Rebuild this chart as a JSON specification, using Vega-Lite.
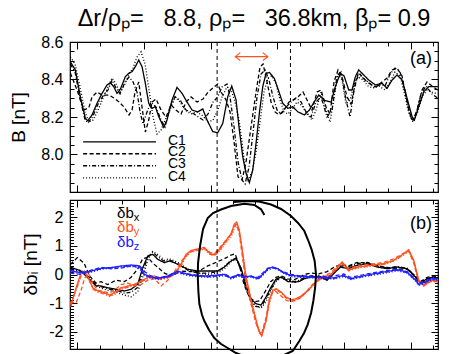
{
"$schema": "https://vega.github.io/schema/vega-lite/v6.json",
"background": "white",
"padding": {"left": 8, "top": 6, "right": 5, "bottom": 0},
"spacing": 0,
"config": {
  "view": {"stroke": "black", "strokeWidth": 1.2},
  "font": "Liberation Sans",
  "axis": {"grid": false, "domain": false, "minExtent": 0, "tickColor": "black", "tickWidth": 1, "labelFont": "Liberation Sans", "labelFontSize": 16, "labelColor": "black", "titleFont": "Liberation Sans", "titleFontSize": 19, "titleFontWeight": "normal", "titleColor": "black"}
},
"datasets": {
"top": [
{"x":-0.315,"y":8.495,"s":"C1"},{"x":-0.09,"y":8.451,"s":"C1"},{"x":0.135,"y":8.308,"s":"C1"},{"x":0.36,"y":8.193,"s":"C1"},{"x":0.468,"y":8.18,"s":"C1"},{"x":0.662,"y":8.211,"s":"C1"},{"x":0.887,"y":8.273,"s":"C1"},{"x":1.112,"y":8.326,"s":"C1"},{"x":1.337,"y":8.371,"s":"C1"},{"x":1.485,"y":8.383,"s":"C1"},{"x":1.638,"y":8.362,"s":"C1"},{"x":1.787,"y":8.326,"s":"C1"},{"x":1.935,"y":8.348,"s":"C1"},{"x":2.16,"y":8.415,"s":"C1"},{"x":2.313,"y":8.433,"s":"C1"},{"x":2.462,"y":8.442,"s":"C1"},{"x":2.61,"y":8.468,"s":"C1"},{"x":2.763,"y":8.504,"s":"C1"},{"x":2.912,"y":8.468,"s":"C1"},{"x":3.06,"y":8.38,"s":"C1"},{"x":3.213,"y":8.273,"s":"C1"},{"x":3.362,"y":8.246,"s":"C1"},{"x":3.51,"y":8.255,"s":"C1"},{"x":3.663,"y":8.202,"s":"C1"},{"x":3.888,"y":8.145,"s":"C1"},{"x":4.037,"y":8.184,"s":"C1"},{"x":4.262,"y":8.291,"s":"C1"},{"x":4.487,"y":8.358,"s":"C1"},{"x":4.712,"y":8.326,"s":"C1"},{"x":4.937,"y":8.28,"s":"C1"},{"x":5.162,"y":8.237,"s":"C1"},{"x":5.419,"y":8.227,"s":"C1"},{"x":5.644,"y":8.243,"s":"C1"},{"x":5.837,"y":8.184,"s":"C1"},{"x":6.094,"y":8.122,"s":"C1"},{"x":6.319,"y":8.116,"s":"C1"},{"x":6.544,"y":8.166,"s":"C1"},{"x":6.769,"y":8.308,"s":"C1"},{"x":6.949,"y":8.365,"s":"C1"},{"x":7.142,"y":8.291,"s":"C1"},{"x":7.291,"y":8.131,"s":"C1"},{"x":7.444,"y":7.988,"s":"C1"},{"x":7.592,"y":7.9,"s":"C1"},{"x":7.741,"y":7.85,"s":"C1"},{"x":7.894,"y":7.917,"s":"C1"},{"x":8.042,"y":8.06,"s":"C1"},{"x":8.191,"y":8.22,"s":"C1"},{"x":8.344,"y":8.362,"s":"C1"},{"x":8.492,"y":8.433,"s":"C1"},{"x":8.641,"y":8.438,"s":"C1"},{"x":8.866,"y":8.406,"s":"C1"},{"x":9.046,"y":8.344,"s":"C1"},{"x":9.244,"y":8.273,"s":"C1"},{"x":9.469,"y":8.246,"s":"C1"},{"x":9.694,"y":8.255,"s":"C1"},{"x":9.919,"y":8.228,"s":"C1"},{"x":10.216,"y":8.211,"s":"C1"},{"x":10.441,"y":8.237,"s":"C1"},{"x":10.666,"y":8.282,"s":"C1"},{"x":10.864,"y":8.317,"s":"C1"},{"x":11.116,"y":8.289,"s":"C1"},{"x":11.418,"y":8.28,"s":"C1"},{"x":11.611,"y":8.362,"s":"C1"},{"x":11.836,"y":8.433,"s":"C1"},{"x":12.003,"y":8.419,"s":"C1"},{"x":12.214,"y":8.344,"s":"C1"},{"x":12.363,"y":8.344,"s":"C1"},{"x":12.511,"y":8.415,"s":"C1"},{"x":12.664,"y":8.451,"s":"C1"},{"x":12.889,"y":8.424,"s":"C1"},{"x":13.114,"y":8.397,"s":"C1"},{"x":13.411,"y":8.371,"s":"C1"},{"x":13.713,"y":8.38,"s":"C1"},{"x":13.938,"y":8.353,"s":"C1"},{"x":14.163,"y":8.397,"s":"C1"},{"x":14.388,"y":8.424,"s":"C1"},{"x":14.613,"y":8.397,"s":"C1"},{"x":14.838,"y":8.3,"s":"C1"},{"x":15.063,"y":8.202,"s":"C1"},{"x":15.167,"y":8.184,"s":"C1"},{"x":15.365,"y":8.255,"s":"C1"},{"x":15.59,"y":8.335,"s":"C1"},{"x":15.815,"y":8.362,"s":"C1"},{"x":16.04,"y":8.362,"s":"C1"},{"x":16.22,"y":8.362,"s":"C1"},
{"x":-0.315,"y":8.435,"s":"C2"},{"x":-0.014,"y":8.344,"s":"C2"},{"x":0.288,"y":8.237,"s":"C2"},{"x":0.513,"y":8.248,"s":"C2"},{"x":0.662,"y":8.307,"s":"C2"},{"x":0.887,"y":8.333,"s":"C2"},{"x":1.112,"y":8.317,"s":"C2"},{"x":1.427,"y":8.317,"s":"C2"},{"x":1.652,"y":8.301,"s":"C2"},{"x":1.877,"y":8.28,"s":"C2"},{"x":2.102,"y":8.253,"s":"C2"},{"x":2.327,"y":8.211,"s":"C2"},{"x":2.462,"y":8.237,"s":"C2"},{"x":2.597,"y":8.333,"s":"C2"},{"x":2.763,"y":8.387,"s":"C2"},{"x":2.912,"y":8.253,"s":"C2"},{"x":3.06,"y":8.12,"s":"C2"},{"x":3.213,"y":8.184,"s":"C2"},{"x":3.362,"y":8.28,"s":"C2"},{"x":3.542,"y":8.296,"s":"C2"},{"x":3.767,"y":8.237,"s":"C2"},{"x":3.992,"y":8.2,"s":"C2"},{"x":4.217,"y":8.264,"s":"C2"},{"x":4.442,"y":8.237,"s":"C2"},{"x":4.667,"y":8.216,"s":"C2"},{"x":4.892,"y":8.28,"s":"C2"},{"x":5.117,"y":8.307,"s":"C2"},{"x":5.387,"y":8.28,"s":"C2"},{"x":5.657,"y":8.296,"s":"C2"},{"x":5.882,"y":8.333,"s":"C2"},{"x":6.107,"y":8.355,"s":"C2"},{"x":6.318,"y":8.376,"s":"C2"},{"x":6.467,"y":8.333,"s":"C2"},{"x":6.692,"y":8.291,"s":"C2"},{"x":6.872,"y":8.227,"s":"C2"},{"x":7.052,"y":8.067,"s":"C2"},{"x":7.232,"y":7.88,"s":"C2"},{"x":7.412,"y":7.864,"s":"C2"},{"x":7.592,"y":7.96,"s":"C2"},{"x":7.817,"y":8.147,"s":"C2"},{"x":8.042,"y":8.333,"s":"C2"},{"x":8.222,"y":8.467,"s":"C2"},{"x":8.357,"y":8.483,"s":"C2"},{"x":8.537,"y":8.387,"s":"C2"},{"x":8.717,"y":8.28,"s":"C2"},{"x":8.897,"y":8.227,"s":"C2"},{"x":9.077,"y":8.211,"s":"C2"},{"x":9.302,"y":8.237,"s":"C2"},{"x":9.527,"y":8.28,"s":"C2"},{"x":9.707,"y":8.291,"s":"C2"},{"x":9.932,"y":8.307,"s":"C2"},{"x":10.157,"y":8.333,"s":"C2"},{"x":10.337,"y":8.291,"s":"C2"},{"x":10.562,"y":8.237,"s":"C2"},{"x":10.787,"y":8.333,"s":"C2"},{"x":10.967,"y":8.344,"s":"C2"},{"x":11.192,"y":8.253,"s":"C2"},{"x":11.372,"y":8.216,"s":"C2"},{"x":11.552,"y":8.387,"s":"C2"},{"x":11.732,"y":8.451,"s":"C2"},{"x":11.912,"y":8.413,"s":"C2"},{"x":12.137,"y":8.307,"s":"C2"},{"x":12.317,"y":8.269,"s":"C2"},{"x":12.542,"y":8.397,"s":"C2"},{"x":12.722,"y":8.429,"s":"C2"},{"x":12.947,"y":8.397,"s":"C2"},{"x":13.172,"y":8.376,"s":"C2"},{"x":13.442,"y":8.36,"s":"C2"},{"x":13.712,"y":8.387,"s":"C2"},{"x":13.937,"y":8.408,"s":"C2"},{"x":14.162,"y":8.451,"s":"C2"},{"x":14.387,"y":8.461,"s":"C2"},{"x":14.612,"y":8.419,"s":"C2"},{"x":14.792,"y":8.307,"s":"C2"},{"x":14.972,"y":8.216,"s":"C2"},{"x":15.107,"y":8.184,"s":"C2"},{"x":15.287,"y":8.237,"s":"C2"},{"x":15.512,"y":8.344,"s":"C2"},{"x":15.737,"y":8.387,"s":"C2"},{"x":15.962,"y":8.365,"s":"C2"},{"x":16.218,"y":8.344,"s":"C2"},
{"x":-0.315,"y":8.483,"s":"C3"},{"x":-0.104,"y":8.44,"s":"C3"},{"x":0.122,"y":8.301,"s":"C3"},{"x":0.347,"y":8.184,"s":"C3"},{"x":0.482,"y":8.168,"s":"C3"},{"x":0.707,"y":8.205,"s":"C3"},{"x":0.932,"y":8.269,"s":"C3"},{"x":1.157,"y":8.312,"s":"C3"},{"x":1.382,"y":8.344,"s":"C3"},{"x":1.562,"y":8.397,"s":"C3"},{"x":1.742,"y":8.355,"s":"C3"},{"x":1.922,"y":8.323,"s":"C3"},{"x":2.147,"y":8.387,"s":"C3"},{"x":2.327,"y":8.413,"s":"C3"},{"x":2.507,"y":8.387,"s":"C3"},{"x":2.687,"y":8.333,"s":"C3"},{"x":2.822,"y":8.227,"s":"C3"},{"x":2.957,"y":8.163,"s":"C3"},{"x":3.137,"y":8.227,"s":"C3"},{"x":3.317,"y":8.28,"s":"C3"},{"x":3.542,"y":8.253,"s":"C3"},{"x":3.767,"y":8.184,"s":"C3"},{"x":3.947,"y":8.147,"s":"C3"},{"x":4.172,"y":8.253,"s":"C3"},{"x":4.397,"y":8.307,"s":"C3"},{"x":4.622,"y":8.291,"s":"C3"},{"x":4.892,"y":8.237,"s":"C3"},{"x":5.117,"y":8.227,"s":"C3"},{"x":5.387,"y":8.205,"s":"C3"},{"x":5.657,"y":8.184,"s":"C3"},{"x":5.882,"y":8.216,"s":"C3"},{"x":6.107,"y":8.28,"s":"C3"},{"x":6.318,"y":8.307,"s":"C3"},{"x":6.512,"y":8.36,"s":"C3"},{"x":6.737,"y":8.376,"s":"C3"},{"x":6.872,"y":8.307,"s":"C3"},{"x":7.052,"y":8.147,"s":"C3"},{"x":7.232,"y":7.96,"s":"C3"},{"x":7.412,"y":7.864,"s":"C3"},{"x":7.547,"y":7.843,"s":"C3"},{"x":7.727,"y":7.933,"s":"C3"},{"x":7.907,"y":8.12,"s":"C3"},{"x":8.087,"y":8.307,"s":"C3"},{"x":8.267,"y":8.429,"s":"C3"},{"x":8.447,"y":8.451,"s":"C3"},{"x":8.627,"y":8.397,"s":"C3"},{"x":8.807,"y":8.307,"s":"C3"},{"x":8.987,"y":8.237,"s":"C3"},{"x":9.167,"y":8.216,"s":"C3"},{"x":9.392,"y":8.253,"s":"C3"},{"x":9.617,"y":8.28,"s":"C3"},{"x":9.842,"y":8.301,"s":"C3"},{"x":10.067,"y":8.28,"s":"C3"},{"x":10.292,"y":8.227,"s":"C3"},{"x":10.517,"y":8.2,"s":"C3"},{"x":10.742,"y":8.28,"s":"C3"},{"x":10.967,"y":8.307,"s":"C3"},{"x":11.237,"y":8.2,"s":"C3"},{"x":11.462,"y":8.237,"s":"C3"},{"x":11.687,"y":8.419,"s":"C3"},{"x":11.867,"y":8.44,"s":"C3"},{"x":12.092,"y":8.291,"s":"C3"},{"x":12.272,"y":8.2,"s":"C3"},{"x":12.452,"y":8.344,"s":"C3"},{"x":12.632,"y":8.429,"s":"C3"},{"x":12.857,"y":8.408,"s":"C3"},{"x":13.082,"y":8.387,"s":"C3"},{"x":13.352,"y":8.36,"s":"C3"},{"x":13.622,"y":8.371,"s":"C3"},{"x":13.847,"y":8.365,"s":"C3"},{"x":14.072,"y":8.429,"s":"C3"},{"x":14.297,"y":8.461,"s":"C3"},{"x":14.522,"y":8.44,"s":"C3"},{"x":14.747,"y":8.344,"s":"C3"},{"x":14.927,"y":8.227,"s":"C3"},{"x":15.062,"y":8.184,"s":"C3"},{"x":15.242,"y":8.216,"s":"C3"},{"x":15.467,"y":8.323,"s":"C3"},{"x":15.692,"y":8.365,"s":"C3"},{"x":15.962,"y":8.323,"s":"C3"},{"x":16.218,"y":8.301,"s":"C3"},
{"x":-0.315,"y":8.52,"s":"C4"},{"x":-0.104,"y":8.483,"s":"C4"},{"x":0.122,"y":8.36,"s":"C4"},{"x":0.347,"y":8.227,"s":"C4"},{"x":0.527,"y":8.173,"s":"C4"},{"x":0.707,"y":8.184,"s":"C4"},{"x":0.932,"y":8.237,"s":"C4"},{"x":1.157,"y":8.301,"s":"C4"},{"x":1.382,"y":8.36,"s":"C4"},{"x":1.562,"y":8.408,"s":"C4"},{"x":1.742,"y":8.376,"s":"C4"},{"x":1.922,"y":8.333,"s":"C4"},{"x":2.147,"y":8.376,"s":"C4"},{"x":2.327,"y":8.429,"s":"C4"},{"x":2.507,"y":8.461,"s":"C4"},{"x":2.687,"y":8.52,"s":"C4"},{"x":2.867,"y":8.547,"s":"C4"},{"x":3.047,"y":8.483,"s":"C4"},{"x":3.227,"y":8.344,"s":"C4"},{"x":3.407,"y":8.2,"s":"C4"},{"x":3.587,"y":8.109,"s":"C4"},{"x":3.767,"y":8.131,"s":"C4"},{"x":3.947,"y":8.184,"s":"C4"},{"x":4.172,"y":8.237,"s":"C4"},{"x":4.397,"y":8.307,"s":"C4"},{"x":4.622,"y":8.28,"s":"C4"},{"x":4.847,"y":8.237,"s":"C4"},{"x":5.117,"y":8.216,"s":"C4"},{"x":5.387,"y":8.227,"s":"C4"},{"x":5.657,"y":8.205,"s":"C4"},{"x":5.882,"y":8.173,"s":"C4"},{"x":6.107,"y":8.184,"s":"C4"},{"x":6.318,"y":8.237,"s":"C4"},{"x":6.512,"y":8.307,"s":"C4"},{"x":6.737,"y":8.36,"s":"C4"},{"x":6.917,"y":8.344,"s":"C4"},{"x":7.097,"y":8.28,"s":"C4"},{"x":7.277,"y":8.184,"s":"C4"},{"x":7.412,"y":8.067,"s":"C4"},{"x":7.547,"y":7.933,"s":"C4"},{"x":7.682,"y":7.864,"s":"C4"},{"x":7.862,"y":7.907,"s":"C4"},{"x":8.042,"y":8.013,"s":"C4"},{"x":8.222,"y":8.173,"s":"C4"},{"x":8.402,"y":8.333,"s":"C4"},{"x":8.582,"y":8.408,"s":"C4"},{"x":8.762,"y":8.419,"s":"C4"},{"x":8.942,"y":8.376,"s":"C4"},{"x":9.122,"y":8.291,"s":"C4"},{"x":9.302,"y":8.227,"s":"C4"},{"x":9.482,"y":8.216,"s":"C4"},{"x":9.707,"y":8.248,"s":"C4"},{"x":9.887,"y":8.28,"s":"C4"},{"x":10.112,"y":8.259,"s":"C4"},{"x":10.337,"y":8.216,"s":"C4"},{"x":10.562,"y":8.184,"s":"C4"},{"x":10.742,"y":8.237,"s":"C4"},{"x":10.967,"y":8.333,"s":"C4"},{"x":11.192,"y":8.237,"s":"C4"},{"x":11.372,"y":8.173,"s":"C4"},{"x":11.552,"y":8.307,"s":"C4"},{"x":11.732,"y":8.429,"s":"C4"},{"x":11.912,"y":8.397,"s":"C4"},{"x":12.092,"y":8.269,"s":"C4"},{"x":12.272,"y":8.291,"s":"C4"},{"x":12.452,"y":8.376,"s":"C4"},{"x":12.632,"y":8.413,"s":"C4"},{"x":12.857,"y":8.397,"s":"C4"},{"x":13.082,"y":8.365,"s":"C4"},{"x":13.307,"y":8.355,"s":"C4"},{"x":13.577,"y":8.365,"s":"C4"},{"x":13.847,"y":8.344,"s":"C4"},{"x":14.072,"y":8.387,"s":"C4"},{"x":14.297,"y":8.44,"s":"C4"},{"x":14.522,"y":8.419,"s":"C4"},{"x":14.702,"y":8.333,"s":"C4"},{"x":14.927,"y":8.216,"s":"C4"},{"x":15.107,"y":8.173,"s":"C4"},{"x":15.287,"y":8.216,"s":"C4"},{"x":15.512,"y":8.307,"s":"C4"},{"x":15.737,"y":8.344,"s":"C4"},{"x":15.962,"y":8.333,"s":"C4"},{"x":16.218,"y":8.323,"s":"C4"}
],
"bot": [
{"x":-0.315,"y":0.262,"c":"x","s":"C1"},{"x":0.167,"y":0.122,"c":"x","s":"C1"},{"x":0.54,"y":-0.168,"c":"x","s":"C1"},{"x":0.842,"y":-0.4,"c":"x","s":"C1"},{"x":1.067,"y":-0.4,"c":"x","s":"C1"},{"x":1.368,"y":-0.461,"c":"x","s":"C1"},{"x":1.742,"y":-0.517,"c":"x","s":"C1"},{"x":2.115,"y":-0.576,"c":"x","s":"C1"},{"x":2.417,"y":-0.517,"c":"x","s":"C1"},{"x":2.718,"y":-0.342,"c":"x","s":"C1"},{"x":2.943,"y":0.237,"c":"x","s":"C1"},{"x":3.168,"y":0.646,"c":"x","s":"C1"},{"x":3.393,"y":0.705,"c":"x","s":"C1"},{"x":3.618,"y":0.531,"c":"x","s":"C1"},{"x":3.915,"y":0.412,"c":"x","s":"C1"},{"x":4.14,"y":0.471,"c":"x","s":"C1"},{"x":4.365,"y":0.412,"c":"x","s":"C1"},{"x":4.667,"y":0.297,"c":"x","s":"C1"},{"x":4.968,"y":0.181,"c":"x","s":"C1"},{"x":5.418,"y":0.122,"c":"x","s":"C1"},{"x":5.868,"y":0.122,"c":"x","s":"C1"},{"x":6.318,"y":0.122,"c":"x","s":"C1"},{"x":6.615,"y":0.262,"c":"x","s":"C1"},{"x":6.917,"y":0.471,"c":"x","s":"C1"},{"x":7.142,"y":0.576,"c":"x","s":"C1"},{"x":7.367,"y":0.227,"c":"x","s":"C1"},{"x":7.592,"y":-0.4,"c":"x","s":"C1"},{"x":7.817,"y":-0.855,"c":"x","s":"C1"},{"x":8.042,"y":-1.019,"c":"x","s":"C1"},{"x":8.267,"y":-1.065,"c":"x","s":"C1"},{"x":8.492,"y":-0.785,"c":"x","s":"C1"},{"x":8.717,"y":-0.436,"c":"x","s":"C1"},{"x":8.942,"y":-0.157,"c":"x","s":"C1"},{"x":9.167,"y":-0.087,"c":"x","s":"C1"},{"x":9.468,"y":-0.244,"c":"x","s":"C1"},{"x":9.765,"y":-0.262,"c":"x","s":"C1"},{"x":9.99,"y":-0.244,"c":"x","s":"C1"},{"x":10.215,"y":-0.147,"c":"x","s":"C1"},{"x":10.517,"y":-0.087,"c":"x","s":"C1"},{"x":10.863,"y":-0.063,"c":"x","s":"C1"},{"x":11.237,"y":-0.202,"c":"x","s":"C1"},{"x":11.538,"y":0.028,"c":"x","s":"C1"},{"x":11.835,"y":0.262,"c":"x","s":"C1"},{"x":12.213,"y":0.202,"c":"x","s":"C1"},{"x":12.587,"y":0.321,"c":"x","s":"C1"},{"x":13.037,"y":0.377,"c":"x","s":"C1"},{"x":13.487,"y":0.262,"c":"x","s":"C1"},{"x":13.937,"y":0.202,"c":"x","s":"C1"},{"x":14.387,"y":0.262,"c":"x","s":"C1"},{"x":14.837,"y":0.202,"c":"x","s":"C1"},{"x":15.211,"y":-0.087,"c":"x","s":"C1"},{"x":15.436,"y":-0.297,"c":"x","s":"C1"},{"x":15.737,"y":-0.147,"c":"x","s":"C1"},{"x":16.039,"y":-0.087,"c":"x","s":"C1"},{"x":16.232,"y":-0.147,"c":"x","s":"C1"},
{"x":-0.315,"y":0.35,"c":"x","s":"C2"},{"x":0.0,"y":0.59,"c":"x","s":"C2"},{"x":0.3,"y":0.4,"c":"x","s":"C2"},{"x":0.55,"y":-0.05,"c":"x","s":"C2"},{"x":0.84,"y":-0.3,"c":"x","s":"C2"},{"x":1.07,"y":-0.25,"c":"x","s":"C2"},{"x":1.37,"y":-0.35,"c":"x","s":"C2"},{"x":1.74,"y":-0.2,"c":"x","s":"C2"},{"x":2.12,"y":-0.25,"c":"x","s":"C2"},{"x":2.42,"y":-0.1,"c":"x","s":"C2"},{"x":2.72,"y":0.2,"c":"x","s":"C2"},{"x":2.94,"y":0.55,"c":"x","s":"C2"},{"x":3.17,"y":0.6,"c":"x","s":"C2"},{"x":3.39,"y":0.4,"c":"x","s":"C2"},{"x":3.62,"y":0.25,"c":"x","s":"C2"},{"x":3.92,"y":0.05,"c":"x","s":"C2"},{"x":4.14,"y":-0.02,"c":"x","s":"C2"},{"x":4.37,"y":0.05,"c":"x","s":"C2"},{"x":4.67,"y":0.12,"c":"x","s":"C2"},{"x":4.97,"y":0.1,"c":"x","s":"C2"},{"x":5.42,"y":0.1,"c":"x","s":"C2"},{"x":5.87,"y":0.3,"c":"x","s":"C2"},{"x":6.32,"y":0.45,"c":"x","s":"C2"},{"x":6.62,"y":0.55,"c":"x","s":"C2"},{"x":6.92,"y":0.68,"c":"x","s":"C2"},{"x":7.1,"y":0.72,"c":"x","s":"C2"},{"x":7.3,"y":0.3,"c":"x","s":"C2"},{"x":7.5,"y":-0.35,"c":"x","s":"C2"},{"x":7.75,"y":-0.8,"c":"x","s":"C2"},{"x":8.0,"y":-0.95,"c":"x","s":"C2"},{"x":8.2,"y":-0.92,"c":"x","s":"C2"},{"x":8.45,"y":-0.6,"c":"x","s":"C2"},{"x":8.7,"y":-0.25,"c":"x","s":"C2"},{"x":8.94,"y":-0.1,"c":"x","s":"C2"},{"x":9.17,"y":-0.05,"c":"x","s":"C2"},{"x":9.47,"y":-0.15,"c":"x","s":"C2"},{"x":9.77,"y":-0.18,"c":"x","s":"C2"},{"x":9.99,"y":-0.1,"c":"x","s":"C2"},{"x":10.22,"y":0.0,"c":"x","s":"C2"},{"x":10.52,"y":0.05,"c":"x","s":"C2"},{"x":10.86,"y":0.02,"c":"x","s":"C2"},{"x":11.24,"y":0.1,"c":"x","s":"C2"},{"x":11.54,"y":0.25,"c":"x","s":"C2"},{"x":11.84,"y":0.35,"c":"x","s":"C2"},{"x":12.21,"y":0.3,"c":"x","s":"C2"},{"x":12.59,"y":0.42,"c":"x","s":"C2"},{"x":13.04,"y":0.4,"c":"x","s":"C2"},{"x":13.49,"y":0.3,"c":"x","s":"C2"},{"x":13.94,"y":0.25,"c":"x","s":"C2"},{"x":14.39,"y":0.2,"c":"x","s":"C2"},{"x":14.84,"y":0.18,"c":"x","s":"C2"},{"x":15.21,"y":-0.05,"c":"x","s":"C2"},{"x":15.44,"y":-0.25,"c":"x","s":"C2"},{"x":15.74,"y":-0.1,"c":"x","s":"C2"},{"x":16.04,"y":-0.05,"c":"x","s":"C2"},{"x":16.23,"y":-0.1,"c":"x","s":"C2"},
{"x":-0.315,"y":0.22,"c":"x","s":"C3"},{"x":0.17,"y":0.1,"c":"x","s":"C3"},{"x":0.54,"y":-0.1,"c":"x","s":"C3"},{"x":0.84,"y":-0.35,"c":"x","s":"C3"},{"x":1.07,"y":-0.42,"c":"x","s":"C3"},{"x":1.37,"y":-0.5,"c":"x","s":"C3"},{"x":1.74,"y":-0.55,"c":"x","s":"C3"},{"x":2.12,"y":-0.65,"c":"x","s":"C3"},{"x":2.42,"y":-0.62,"c":"x","s":"C3"},{"x":2.72,"y":-0.45,"c":"x","s":"C3"},{"x":2.94,"y":0.1,"c":"x","s":"C3"},{"x":3.17,"y":0.6,"c":"x","s":"C3"},{"x":3.39,"y":0.78,"c":"x","s":"C3"},{"x":3.62,"y":0.62,"c":"x","s":"C3"},{"x":3.92,"y":0.45,"c":"x","s":"C3"},{"x":4.14,"y":0.5,"c":"x","s":"C3"},{"x":4.37,"y":0.45,"c":"x","s":"C3"},{"x":4.67,"y":0.3,"c":"x","s":"C3"},{"x":4.97,"y":0.15,"c":"x","s":"C3"},{"x":5.42,"y":0.05,"c":"x","s":"C3"},{"x":5.87,"y":0.05,"c":"x","s":"C3"},{"x":6.32,"y":0.1,"c":"x","s":"C3"},{"x":6.62,"y":0.28,"c":"x","s":"C3"},{"x":6.92,"y":0.5,"c":"x","s":"C3"},{"x":7.14,"y":0.55,"c":"x","s":"C3"},{"x":7.37,"y":0.15,"c":"x","s":"C3"},{"x":7.59,"y":-0.5,"c":"x","s":"C3"},{"x":7.82,"y":-0.95,"c":"x","s":"C3"},{"x":8.04,"y":-1.12,"c":"x","s":"C3"},{"x":8.27,"y":-1.12,"c":"x","s":"C3"},{"x":8.49,"y":-0.85,"c":"x","s":"C3"},{"x":8.72,"y":-0.5,"c":"x","s":"C3"},{"x":8.94,"y":-0.2,"c":"x","s":"C3"},{"x":9.17,"y":-0.1,"c":"x","s":"C3"},{"x":9.47,"y":-0.2,"c":"x","s":"C3"},{"x":9.77,"y":-0.25,"c":"x","s":"C3"},{"x":9.99,"y":-0.2,"c":"x","s":"C3"},{"x":10.22,"y":-0.1,"c":"x","s":"C3"},{"x":10.52,"y":-0.05,"c":"x","s":"C3"},{"x":10.86,"y":-0.05,"c":"x","s":"C3"},{"x":11.24,"y":-0.15,"c":"x","s":"C3"},{"x":11.54,"y":0.1,"c":"x","s":"C3"},{"x":11.84,"y":0.3,"c":"x","s":"C3"},{"x":12.21,"y":0.28,"c":"x","s":"C3"},{"x":12.59,"y":0.38,"c":"x","s":"C3"},{"x":13.04,"y":0.42,"c":"x","s":"C3"},{"x":13.49,"y":0.32,"c":"x","s":"C3"},{"x":13.94,"y":0.22,"c":"x","s":"C3"},{"x":14.39,"y":0.28,"c":"x","s":"C3"},{"x":14.84,"y":0.22,"c":"x","s":"C3"},{"x":15.21,"y":-0.05,"c":"x","s":"C3"},{"x":15.44,"y":-0.3,"c":"x","s":"C3"},{"x":15.74,"y":-0.15,"c":"x","s":"C3"},{"x":16.04,"y":-0.08,"c":"x","s":"C3"},{"x":16.23,"y":-0.12,"c":"x","s":"C3"},
{"x":-0.315,"y":0.2,"c":"x","s":"C4"},{"x":0.17,"y":0.15,"c":"x","s":"C4"},{"x":0.54,"y":-0.12,"c":"x","s":"C4"},{"x":0.84,"y":-0.4,"c":"x","s":"C4"},{"x":1.07,"y":-0.48,"c":"x","s":"C4"},{"x":1.37,"y":-0.55,"c":"x","s":"C4"},{"x":1.74,"y":-0.62,"c":"x","s":"C4"},{"x":2.12,"y":-0.72,"c":"x","s":"C4"},{"x":2.42,"y":-0.78,"c":"x","s":"C4"},{"x":2.72,"y":-0.6,"c":"x","s":"C4"},{"x":2.94,"y":-0.1,"c":"x","s":"C4"},{"x":3.17,"y":0.5,"c":"x","s":"C4"},{"x":3.39,"y":0.8,"c":"x","s":"C4"},{"x":3.62,"y":0.7,"c":"x","s":"C4"},{"x":3.92,"y":0.5,"c":"x","s":"C4"},{"x":4.14,"y":0.55,"c":"x","s":"C4"},{"x":4.37,"y":0.48,"c":"x","s":"C4"},{"x":4.67,"y":0.35,"c":"x","s":"C4"},{"x":4.97,"y":0.18,"c":"x","s":"C4"},{"x":5.42,"y":0.05,"c":"x","s":"C4"},{"x":5.87,"y":0.0,"c":"x","s":"C4"},{"x":6.32,"y":0.05,"c":"x","s":"C4"},{"x":6.62,"y":0.2,"c":"x","s":"C4"},{"x":6.92,"y":0.45,"c":"x","s":"C4"},{"x":7.14,"y":0.52,"c":"x","s":"C4"},{"x":7.37,"y":0.2,"c":"x","s":"C4"},{"x":7.59,"y":-0.4,"c":"x","s":"C4"},{"x":7.82,"y":-0.9,"c":"x","s":"C4"},{"x":8.04,"y":-1.1,"c":"x","s":"C4"},{"x":8.27,"y":-1.18,"c":"x","s":"C4"},{"x":8.49,"y":-0.95,"c":"x","s":"C4"},{"x":8.72,"y":-0.55,"c":"x","s":"C4"},{"x":8.94,"y":-0.25,"c":"x","s":"C4"},{"x":9.17,"y":-0.12,"c":"x","s":"C4"},{"x":9.47,"y":-0.2,"c":"x","s":"C4"},{"x":9.77,"y":-0.28,"c":"x","s":"C4"},{"x":9.99,"y":-0.22,"c":"x","s":"C4"},{"x":10.22,"y":-0.12,"c":"x","s":"C4"},{"x":10.52,"y":-0.08,"c":"x","s":"C4"},{"x":10.86,"y":-0.1,"c":"x","s":"C4"},{"x":11.24,"y":-0.18,"c":"x","s":"C4"},{"x":11.54,"y":0.05,"c":"x","s":"C4"},{"x":11.84,"y":0.25,"c":"x","s":"C4"},{"x":12.21,"y":0.25,"c":"x","s":"C4"},{"x":12.59,"y":0.33,"c":"x","s":"C4"},{"x":13.04,"y":0.38,"c":"x","s":"C4"},{"x":13.49,"y":0.28,"c":"x","s":"C4"},{"x":13.94,"y":0.22,"c":"x","s":"C4"},{"x":14.39,"y":0.25,"c":"x","s":"C4"},{"x":14.84,"y":0.2,"c":"x","s":"C4"},{"x":15.21,"y":-0.1,"c":"x","s":"C4"},{"x":15.44,"y":-0.32,"c":"x","s":"C4"},{"x":15.74,"y":-0.18,"c":"x","s":"C4"},{"x":16.04,"y":-0.1,"c":"x","s":"C4"},{"x":16.23,"y":-0.15,"c":"x","s":"C4"},
{"x":-0.284,"y":-1.1,"c":"y","s":"C1"},{"x":-0.059,"y":-0.471,"c":"y","s":"C1"},{"x":0.167,"y":0.052,"c":"y","s":"C1"},{"x":0.315,"y":0.122,"c":"y","s":"C1"},{"x":0.495,"y":-0.112,"c":"y","s":"C1"},{"x":0.693,"y":-0.461,"c":"y","s":"C1"},{"x":0.918,"y":-0.576,"c":"y","s":"C1"},{"x":1.215,"y":-0.635,"c":"y","s":"C1"},{"x":1.44,"y":-0.716,"c":"y","s":"C1"},{"x":1.665,"y":-0.635,"c":"y","s":"C1"},{"x":1.967,"y":-0.461,"c":"y","s":"C1"},{"x":2.268,"y":-0.401,"c":"y","s":"C1"},{"x":2.565,"y":-0.342,"c":"y","s":"C1"},{"x":2.867,"y":-0.227,"c":"y","s":"C1"},{"x":3.168,"y":-0.112,"c":"y","s":"C1"},{"x":3.465,"y":-0.052,"c":"y","s":"C1"},{"x":3.767,"y":-0.133,"c":"y","s":"C1"},{"x":4.068,"y":-0.087,"c":"y","s":"C1"},{"x":4.365,"y":0.007,"c":"y","s":"C1"},{"x":4.667,"y":0.356,"c":"y","s":"C1"},{"x":4.892,"y":0.705,"c":"y","s":"C1"},{"x":5.117,"y":0.838,"c":"y","s":"C1"},{"x":5.418,"y":0.89,"c":"y","s":"C1"},{"x":5.715,"y":0.942,"c":"y","s":"C1"},{"x":6.017,"y":0.698,"c":"y","s":"C1"},{"x":6.242,"y":0.726,"c":"y","s":"C1"},{"x":6.467,"y":0.96,"c":"y","s":"C1"},{"x":6.692,"y":1.194,"c":"y","s":"C1"},{"x":6.917,"y":1.424,"c":"y","s":"C1"},{"x":7.065,"y":1.763,"c":"y","s":"C1"},{"x":7.173,"y":1.832,"c":"y","s":"C1"},{"x":7.29,"y":1.543,"c":"y","s":"C1"},{"x":7.443,"y":0.726,"c":"y","s":"C1"},{"x":7.592,"y":-0.087,"c":"y","s":"C1"},{"x":7.817,"y":-0.9,"c":"y","s":"C1"},{"x":8.042,"y":-1.598,"c":"y","s":"C1"},{"x":8.191,"y":-2.007,"c":"y","s":"C1"},{"x":8.299,"y":-2.147,"c":"y","s":"C1"},{"x":8.492,"y":-1.598,"c":"y","s":"C1"},{"x":8.641,"y":-0.9,"c":"y","s":"C1"},{"x":8.794,"y":-0.551,"c":"y","s":"C1"},{"x":8.942,"y":-0.496,"c":"y","s":"C1"},{"x":9.167,"y":-0.611,"c":"y","s":"C1"},{"x":9.392,"y":-0.786,"c":"y","s":"C1"},{"x":9.617,"y":-0.88,"c":"y","s":"C1"},{"x":9.842,"y":-0.845,"c":"y","s":"C1"},{"x":10.067,"y":-0.75,"c":"y","s":"C1"},{"x":10.292,"y":-0.611,"c":"y","s":"C1"},{"x":10.517,"y":-0.436,"c":"y","s":"C1"},{"x":10.787,"y":-0.227,"c":"y","s":"C1"},{"x":11.057,"y":-0.087,"c":"y","s":"C1"},{"x":11.386,"y":-0.017,"c":"y","s":"C1"},{"x":11.642,"y":0.192,"c":"y","s":"C1"},{"x":11.912,"y":0.436,"c":"y","s":"C1"},{"x":12.214,"y":0.147,"c":"y","s":"C1"},{"x":12.587,"y":0.262,"c":"y","s":"C1"},{"x":13.186,"y":0.321,"c":"y","s":"C1"},{"x":13.789,"y":0.377,"c":"y","s":"C1"},{"x":14.239,"y":0.496,"c":"y","s":"C1"},{"x":14.689,"y":0.726,"c":"y","s":"C1"},{"x":14.914,"y":0.866,"c":"y","s":"C1"},{"x":15.139,"y":0.496,"c":"y","s":"C1"},{"x":15.364,"y":-0.202,"c":"y","s":"C1"},{"x":15.589,"y":-0.366,"c":"y","s":"C1"},{"x":15.886,"y":-0.202,"c":"y","s":"C1"},{"x":16.232,"y":-0.227,"c":"y","s":"C1"},
{"x":-0.315,"y":-0.95,"c":"y","s":"C2"},{"x":-0.06,"y":-1.0,"c":"y","s":"C2"},{"x":0.17,"y":-0.55,"c":"y","s":"C2"},{"x":0.32,"y":-0.15,"c":"y","s":"C2"},{"x":0.5,"y":0.05,"c":"y","s":"C2"},{"x":0.69,"y":-0.3,"c":"y","s":"C2"},{"x":0.92,"y":-0.55,"c":"y","s":"C2"},{"x":1.22,"y":-0.6,"c":"y","s":"C2"},{"x":1.44,"y":-0.65,"c":"y","s":"C2"},{"x":1.67,"y":-0.55,"c":"y","s":"C2"},{"x":1.97,"y":-0.35,"c":"y","s":"C2"},{"x":2.27,"y":-0.3,"c":"y","s":"C2"},{"x":2.57,"y":-0.4,"c":"y","s":"C2"},{"x":2.87,"y":-0.35,"c":"y","s":"C2"},{"x":3.17,"y":-0.2,"c":"y","s":"C2"},{"x":3.47,"y":-0.15,"c":"y","s":"C2"},{"x":3.77,"y":-0.4,"c":"y","s":"C2"},{"x":4.07,"y":-0.2,"c":"y","s":"C2"},{"x":4.37,"y":0.1,"c":"y","s":"C2"},{"x":4.67,"y":0.45,"c":"y","s":"C2"},{"x":4.89,"y":0.65,"c":"y","s":"C2"},{"x":5.12,"y":0.8,"c":"y","s":"C2"},{"x":5.42,"y":0.85,"c":"y","s":"C2"},{"x":5.72,"y":0.9,"c":"y","s":"C2"},{"x":6.02,"y":0.75,"c":"y","s":"C2"},{"x":6.24,"y":0.78,"c":"y","s":"C2"},{"x":6.47,"y":1.0,"c":"y","s":"C2"},{"x":6.69,"y":1.2,"c":"y","s":"C2"},{"x":6.92,"y":1.4,"c":"y","s":"C2"},{"x":7.07,"y":1.7,"c":"y","s":"C2"},{"x":7.17,"y":1.75,"c":"y","s":"C2"},{"x":7.29,"y":1.4,"c":"y","s":"C2"},{"x":7.44,"y":0.55,"c":"y","s":"C2"},{"x":7.59,"y":-0.3,"c":"y","s":"C2"},{"x":7.82,"y":-1.05,"c":"y","s":"C2"},{"x":8.04,"y":-1.7,"c":"y","s":"C2"},{"x":8.19,"y":-2.0,"c":"y","s":"C2"},{"x":8.3,"y":-2.05,"c":"y","s":"C2"},{"x":8.49,"y":-1.5,"c":"y","s":"C2"},{"x":8.64,"y":-0.85,"c":"y","s":"C2"},{"x":8.79,"y":-0.6,"c":"y","s":"C2"},{"x":8.94,"y":-0.6,"c":"y","s":"C2"},{"x":9.17,"y":-0.75,"c":"y","s":"C2"},{"x":9.39,"y":-0.9,"c":"y","s":"C2"},{"x":9.62,"y":-0.95,"c":"y","s":"C2"},{"x":9.84,"y":-0.9,"c":"y","s":"C2"},{"x":10.07,"y":-0.8,"c":"y","s":"C2"},{"x":10.29,"y":-0.62,"c":"y","s":"C2"},{"x":10.52,"y":-0.4,"c":"y","s":"C2"},{"x":10.79,"y":-0.2,"c":"y","s":"C2"},{"x":11.06,"y":-0.05,"c":"y","s":"C2"},{"x":11.39,"y":0.05,"c":"y","s":"C2"},{"x":11.64,"y":0.25,"c":"y","s":"C2"},{"x":11.91,"y":0.42,"c":"y","s":"C2"},{"x":12.21,"y":0.2,"c":"y","s":"C2"},{"x":12.59,"y":0.3,"c":"y","s":"C2"},{"x":13.19,"y":0.36,"c":"y","s":"C2"},{"x":13.79,"y":0.42,"c":"y","s":"C2"},{"x":14.24,"y":0.55,"c":"y","s":"C2"},{"x":14.69,"y":0.75,"c":"y","s":"C2"},{"x":14.91,"y":0.82,"c":"y","s":"C2"},{"x":15.14,"y":0.4,"c":"y","s":"C2"},{"x":15.36,"y":-0.25,"c":"y","s":"C2"},{"x":15.59,"y":-0.4,"c":"y","s":"C2"},{"x":15.89,"y":-0.25,"c":"y","s":"C2"},{"x":16.23,"y":-0.25,"c":"y","s":"C2"},
{"x":-0.315,"y":-1.05,"c":"y","s":"C3"},{"x":-0.06,"y":-0.55,"c":"y","s":"C3"},{"x":0.17,"y":-0.05,"c":"y","s":"C3"},{"x":0.32,"y":0.08,"c":"y","s":"C3"},{"x":0.5,"y":-0.15,"c":"y","s":"C3"},{"x":0.69,"y":-0.5,"c":"y","s":"C3"},{"x":0.92,"y":-0.62,"c":"y","s":"C3"},{"x":1.22,"y":-0.68,"c":"y","s":"C3"},{"x":1.44,"y":-0.75,"c":"y","s":"C3"},{"x":1.67,"y":-0.68,"c":"y","s":"C3"},{"x":1.97,"y":-0.5,"c":"y","s":"C3"},{"x":2.27,"y":-0.45,"c":"y","s":"C3"},{"x":2.57,"y":-0.38,"c":"y","s":"C3"},{"x":2.87,"y":-0.25,"c":"y","s":"C3"},{"x":3.17,"y":-0.15,"c":"y","s":"C3"},{"x":3.47,"y":-0.08,"c":"y","s":"C3"},{"x":3.77,"y":-0.18,"c":"y","s":"C3"},{"x":4.07,"y":-0.12,"c":"y","s":"C3"},{"x":4.37,"y":0.0,"c":"y","s":"C3"},{"x":4.67,"y":0.32,"c":"y","s":"C3"},{"x":4.89,"y":0.68,"c":"y","s":"C3"},{"x":5.12,"y":0.82,"c":"y","s":"C3"},{"x":5.42,"y":0.86,"c":"y","s":"C3"},{"x":5.72,"y":0.92,"c":"y","s":"C3"},{"x":6.02,"y":0.68,"c":"y","s":"C3"},{"x":6.24,"y":0.7,"c":"y","s":"C3"},{"x":6.47,"y":0.92,"c":"y","s":"C3"},{"x":6.69,"y":1.15,"c":"y","s":"C3"},{"x":6.92,"y":1.38,"c":"y","s":"C3"},{"x":7.07,"y":1.7,"c":"y","s":"C3"},{"x":7.17,"y":1.78,"c":"y","s":"C3"},{"x":7.29,"y":1.52,"c":"y","s":"C3"},{"x":7.44,"y":0.72,"c":"y","s":"C3"},{"x":7.59,"y":-0.12,"c":"y","s":"C3"},{"x":7.82,"y":-0.95,"c":"y","s":"C3"},{"x":8.04,"y":-1.65,"c":"y","s":"C3"},{"x":8.19,"y":-2.05,"c":"y","s":"C3"},{"x":8.3,"y":-2.12,"c":"y","s":"C3"},{"x":8.49,"y":-1.62,"c":"y","s":"C3"},{"x":8.64,"y":-0.95,"c":"y","s":"C3"},{"x":8.79,"y":-0.6,"c":"y","s":"C3"},{"x":8.94,"y":-0.52,"c":"y","s":"C3"},{"x":9.17,"y":-0.65,"c":"y","s":"C3"},{"x":9.39,"y":-0.82,"c":"y","s":"C3"},{"x":9.62,"y":-0.92,"c":"y","s":"C3"},{"x":9.84,"y":-0.88,"c":"y","s":"C3"},{"x":10.07,"y":-0.78,"c":"y","s":"C3"},{"x":10.29,"y":-0.64,"c":"y","s":"C3"},{"x":10.52,"y":-0.46,"c":"y","s":"C3"},{"x":10.79,"y":-0.25,"c":"y","s":"C3"},{"x":11.06,"y":-0.1,"c":"y","s":"C3"},{"x":11.39,"y":-0.02,"c":"y","s":"C3"},{"x":11.64,"y":0.18,"c":"y","s":"C3"},{"x":11.91,"y":0.4,"c":"y","s":"C3"},{"x":12.21,"y":0.12,"c":"y","s":"C3"},{"x":12.59,"y":0.24,"c":"y","s":"C3"},{"x":13.19,"y":0.3,"c":"y","s":"C3"},{"x":13.79,"y":0.36,"c":"y","s":"C3"},{"x":14.24,"y":0.48,"c":"y","s":"C3"},{"x":14.69,"y":0.7,"c":"y","s":"C3"},{"x":14.91,"y":0.84,"c":"y","s":"C3"},{"x":15.14,"y":0.46,"c":"y","s":"C3"},{"x":15.36,"y":-0.22,"c":"y","s":"C3"},{"x":15.59,"y":-0.38,"c":"y","s":"C3"},{"x":15.89,"y":-0.22,"c":"y","s":"C3"},{"x":16.23,"y":-0.24,"c":"y","s":"C3"},
{"x":-0.315,"y":-1.12,"c":"y","s":"C4"},{"x":-0.06,"y":-0.5,"c":"y","s":"C4"},{"x":0.17,"y":0.0,"c":"y","s":"C4"},{"x":0.32,"y":0.1,"c":"y","s":"C4"},{"x":0.5,"y":-0.1,"c":"y","s":"C4"},{"x":0.69,"y":-0.45,"c":"y","s":"C4"},{"x":0.92,"y":-0.6,"c":"y","s":"C4"},{"x":1.22,"y":-0.66,"c":"y","s":"C4"},{"x":1.44,"y":-0.76,"c":"y","s":"C4"},{"x":1.67,"y":-0.7,"c":"y","s":"C4"},{"x":1.97,"y":-0.52,"c":"y","s":"C4"},{"x":2.27,"y":-0.42,"c":"y","s":"C4"},{"x":2.57,"y":-0.36,"c":"y","s":"C4"},{"x":2.87,"y":-0.24,"c":"y","s":"C4"},{"x":3.17,"y":-0.12,"c":"y","s":"C4"},{"x":3.47,"y":-0.06,"c":"y","s":"C4"},{"x":3.77,"y":-0.15,"c":"y","s":"C4"},{"x":4.07,"y":-0.1,"c":"y","s":"C4"},{"x":4.37,"y":-0.02,"c":"y","s":"C4"},{"x":4.67,"y":0.3,"c":"y","s":"C4"},{"x":4.89,"y":0.62,"c":"y","s":"C4"},{"x":5.12,"y":0.78,"c":"y","s":"C4"},{"x":5.42,"y":0.84,"c":"y","s":"C4"},{"x":5.72,"y":0.88,"c":"y","s":"C4"},{"x":6.02,"y":0.66,"c":"y","s":"C4"},{"x":6.24,"y":0.68,"c":"y","s":"C4"},{"x":6.47,"y":0.88,"c":"y","s":"C4"},{"x":6.69,"y":1.1,"c":"y","s":"C4"},{"x":6.92,"y":1.3,"c":"y","s":"C4"},{"x":7.07,"y":1.62,"c":"y","s":"C4"},{"x":7.17,"y":1.7,"c":"y","s":"C4"},{"x":7.29,"y":1.48,"c":"y","s":"C4"},{"x":7.44,"y":0.75,"c":"y","s":"C4"},{"x":7.59,"y":-0.05,"c":"y","s":"C4"},{"x":7.82,"y":-0.85,"c":"y","s":"C4"},{"x":8.04,"y":-1.55,"c":"y","s":"C4"},{"x":8.19,"y":-1.95,"c":"y","s":"C4"},{"x":8.3,"y":-2.08,"c":"y","s":"C4"},{"x":8.49,"y":-1.65,"c":"y","s":"C4"},{"x":8.64,"y":-1.0,"c":"y","s":"C4"},{"x":8.79,"y":-0.62,"c":"y","s":"C4"},{"x":8.94,"y":-0.5,"c":"y","s":"C4"},{"x":9.17,"y":-0.6,"c":"y","s":"C4"},{"x":9.39,"y":-0.8,"c":"y","s":"C4"},{"x":9.62,"y":-0.9,"c":"y","s":"C4"},{"x":9.84,"y":-0.86,"c":"y","s":"C4"},{"x":10.07,"y":-0.76,"c":"y","s":"C4"},{"x":10.29,"y":-0.62,"c":"y","s":"C4"},{"x":10.52,"y":-0.45,"c":"y","s":"C4"},{"x":10.79,"y":-0.24,"c":"y","s":"C4"},{"x":11.06,"y":-0.12,"c":"y","s":"C4"},{"x":11.39,"y":-0.05,"c":"y","s":"C4"},{"x":11.64,"y":0.15,"c":"y","s":"C4"},{"x":11.91,"y":0.38,"c":"y","s":"C4"},{"x":12.21,"y":0.14,"c":"y","s":"C4"},{"x":12.59,"y":0.22,"c":"y","s":"C4"},{"x":13.19,"y":0.28,"c":"y","s":"C4"},{"x":13.79,"y":0.34,"c":"y","s":"C4"},{"x":14.24,"y":0.46,"c":"y","s":"C4"},{"x":14.69,"y":0.68,"c":"y","s":"C4"},{"x":14.91,"y":0.8,"c":"y","s":"C4"},{"x":15.14,"y":0.44,"c":"y","s":"C4"},{"x":15.36,"y":-0.25,"c":"y","s":"C4"},{"x":15.59,"y":-0.4,"c":"y","s":"C4"},{"x":15.89,"y":-0.24,"c":"y","s":"C4"},{"x":16.23,"y":-0.26,"c":"y","s":"C4"},
{"x":-0.284,"y":0.122,"c":"z","s":"C1"},{"x":0.167,"y":0.063,"c":"z","s":"C1"},{"x":0.617,"y":0.122,"c":"z","s":"C1"},{"x":1.067,"y":0.216,"c":"z","s":"C1"},{"x":1.517,"y":0.237,"c":"z","s":"C1"},{"x":1.967,"y":0.297,"c":"z","s":"C1"},{"x":2.417,"y":0.332,"c":"z","s":"C1"},{"x":2.79,"y":0.297,"c":"z","s":"C1"},{"x":3.015,"y":0.007,"c":"z","s":"C1"},{"x":3.317,"y":-0.087,"c":"z","s":"C1"},{"x":3.618,"y":-0.133,"c":"z","s":"C1"},{"x":4.068,"y":-0.052,"c":"z","s":"C1"},{"x":4.518,"y":0.122,"c":"z","s":"C1"},{"x":4.968,"y":0.007,"c":"z","s":"C1"},{"x":5.418,"y":-0.052,"c":"z","s":"C1"},{"x":5.868,"y":-0.052,"c":"z","s":"C1"},{"x":6.318,"y":-0.017,"c":"z","s":"C1"},{"x":6.615,"y":0.007,"c":"z","s":"C1"},{"x":6.917,"y":-0.122,"c":"z","s":"C1"},{"x":7.218,"y":-0.017,"c":"z","s":"C1"},{"x":7.516,"y":-0.087,"c":"z","s":"C1"},{"x":7.817,"y":-0.052,"c":"z","s":"C1"},{"x":8.119,"y":-0.14,"c":"z","s":"C1"},{"x":8.344,"y":0.007,"c":"z","s":"C1"},{"x":8.569,"y":0.202,"c":"z","s":"C1"},{"x":8.794,"y":0.262,"c":"z","s":"C1"},{"x":9.019,"y":0.202,"c":"z","s":"C1"},{"x":9.316,"y":0.052,"c":"z","s":"C1"},{"x":9.617,"y":-0.028,"c":"z","s":"C1"},{"x":10.067,"y":-0.063,"c":"z","s":"C1"},{"x":10.517,"y":-0.087,"c":"z","s":"C1"},{"x":10.864,"y":-0.105,"c":"z","s":"C1"},{"x":11.539,"y":-0.122,"c":"z","s":"C1"},{"x":11.989,"y":-0.028,"c":"z","s":"C1"},{"x":12.286,"y":-0.147,"c":"z","s":"C1"},{"x":13.038,"y":-0.017,"c":"z","s":"C1"},{"x":13.789,"y":0.087,"c":"z","s":"C1"},{"x":14.388,"y":0.168,"c":"z","s":"C1"},{"x":14.838,"y":0.087,"c":"z","s":"C1"},{"x":15.212,"y":-0.192,"c":"z","s":"C1"},{"x":15.365,"y":-0.349,"c":"z","s":"C1"},{"x":15.662,"y":-0.262,"c":"z","s":"C1"},{"x":15.918,"y":-0.157,"c":"z","s":"C1"},{"x":16.233,"y":-0.147,"c":"z","s":"C1"},
{"x":-0.315,"y":0.05,"c":"z","s":"C2"},{"x":0.17,"y":0.0,"c":"z","s":"C2"},{"x":0.62,"y":0.15,"c":"z","s":"C2"},{"x":1.07,"y":0.25,"c":"z","s":"C2"},{"x":1.52,"y":0.2,"c":"z","s":"C2"},{"x":1.97,"y":0.22,"c":"z","s":"C2"},{"x":2.42,"y":0.3,"c":"z","s":"C2"},{"x":2.79,"y":0.32,"c":"z","s":"C2"},{"x":3.02,"y":0.1,"c":"z","s":"C2"},{"x":3.32,"y":-0.05,"c":"z","s":"C2"},{"x":3.62,"y":-0.1,"c":"z","s":"C2"},{"x":4.07,"y":-0.08,"c":"z","s":"C2"},{"x":4.52,"y":0.05,"c":"z","s":"C2"},{"x":4.97,"y":0.02,"c":"z","s":"C2"},{"x":5.42,"y":-0.02,"c":"z","s":"C2"},{"x":5.87,"y":-0.08,"c":"z","s":"C2"},{"x":6.32,"y":-0.05,"c":"z","s":"C2"},{"x":6.62,"y":0.02,"c":"z","s":"C2"},{"x":6.92,"y":-0.1,"c":"z","s":"C2"},{"x":7.22,"y":0.0,"c":"z","s":"C2"},{"x":7.52,"y":-0.05,"c":"z","s":"C2"},{"x":7.82,"y":-0.08,"c":"z","s":"C2"},{"x":8.12,"y":-0.1,"c":"z","s":"C2"},{"x":8.34,"y":0.05,"c":"z","s":"C2"},{"x":8.57,"y":0.22,"c":"z","s":"C2"},{"x":8.79,"y":0.25,"c":"z","s":"C2"},{"x":9.02,"y":0.18,"c":"z","s":"C2"},{"x":9.32,"y":0.08,"c":"z","s":"C2"},{"x":9.62,"y":0.0,"c":"z","s":"C2"},{"x":10.07,"y":-0.05,"c":"z","s":"C2"},{"x":10.52,"y":-0.05,"c":"z","s":"C2"},{"x":10.86,"y":-0.08,"c":"z","s":"C2"},{"x":11.54,"y":-0.05,"c":"z","s":"C2"},{"x":11.99,"y":0.02,"c":"z","s":"C2"},{"x":12.29,"y":-0.1,"c":"z","s":"C2"},{"x":13.04,"y":0.02,"c":"z","s":"C2"},{"x":13.79,"y":0.12,"c":"z","s":"C2"},{"x":14.39,"y":0.2,"c":"z","s":"C2"},{"x":14.84,"y":0.1,"c":"z","s":"C2"},{"x":15.21,"y":-0.15,"c":"z","s":"C2"},{"x":15.37,"y":-0.3,"c":"z","s":"C2"},{"x":15.66,"y":-0.22,"c":"z","s":"C2"},{"x":15.92,"y":-0.14,"c":"z","s":"C2"},{"x":16.23,"y":-0.12,"c":"z","s":"C2"},
{"x":-0.315,"y":0.15,"c":"z","s":"C3"},{"x":0.17,"y":0.08,"c":"z","s":"C3"},{"x":0.62,"y":0.1,"c":"z","s":"C3"},{"x":1.07,"y":0.2,"c":"z","s":"C3"},{"x":1.52,"y":0.25,"c":"z","s":"C3"},{"x":1.97,"y":0.28,"c":"z","s":"C3"},{"x":2.42,"y":0.3,"c":"z","s":"C3"},{"x":2.79,"y":0.25,"c":"z","s":"C3"},{"x":3.02,"y":-0.02,"c":"z","s":"C3"},{"x":3.32,"y":-0.1,"c":"z","s":"C3"},{"x":3.62,"y":-0.15,"c":"z","s":"C3"},{"x":4.07,"y":-0.06,"c":"z","s":"C3"},{"x":4.52,"y":0.1,"c":"z","s":"C3"},{"x":4.97,"y":-0.02,"c":"z","s":"C3"},{"x":5.42,"y":-0.06,"c":"z","s":"C3"},{"x":5.87,"y":-0.06,"c":"z","s":"C3"},{"x":6.32,"y":-0.04,"c":"z","s":"C3"},{"x":6.62,"y":-0.02,"c":"z","s":"C3"},{"x":6.92,"y":-0.14,"c":"z","s":"C3"},{"x":7.22,"y":-0.04,"c":"z","s":"C3"},{"x":7.52,"y":-0.1,"c":"z","s":"C3"},{"x":7.82,"y":-0.06,"c":"z","s":"C3"},{"x":8.12,"y":-0.16,"c":"z","s":"C3"},{"x":8.34,"y":-0.02,"c":"z","s":"C3"},{"x":8.57,"y":0.18,"c":"z","s":"C3"},{"x":8.79,"y":0.24,"c":"z","s":"C3"},{"x":9.02,"y":0.2,"c":"z","s":"C3"},{"x":9.32,"y":0.04,"c":"z","s":"C3"},{"x":9.62,"y":-0.05,"c":"z","s":"C3"},{"x":10.07,"y":-0.08,"c":"z","s":"C3"},{"x":10.52,"y":-0.1,"c":"z","s":"C3"},{"x":10.86,"y":-0.12,"c":"z","s":"C3"},{"x":11.54,"y":-0.14,"c":"z","s":"C3"},{"x":11.99,"y":-0.05,"c":"z","s":"C3"},{"x":12.29,"y":-0.16,"c":"z","s":"C3"},{"x":13.04,"y":-0.04,"c":"z","s":"C3"},{"x":13.79,"y":0.06,"c":"z","s":"C3"},{"x":14.39,"y":0.15,"c":"z","s":"C3"},{"x":14.84,"y":0.06,"c":"z","s":"C3"},{"x":15.21,"y":-0.2,"c":"z","s":"C3"},{"x":15.37,"y":-0.36,"c":"z","s":"C3"},{"x":15.66,"y":-0.28,"c":"z","s":"C3"},{"x":15.92,"y":-0.17,"c":"z","s":"C3"},{"x":16.23,"y":-0.16,"c":"z","s":"C3"},
{"x":-0.315,"y":0.1,"c":"z","s":"C4"},{"x":0.17,"y":0.04,"c":"z","s":"C4"},{"x":0.62,"y":0.08,"c":"z","s":"C4"},{"x":1.07,"y":0.18,"c":"z","s":"C4"},{"x":1.52,"y":0.22,"c":"z","s":"C4"},{"x":1.97,"y":0.26,"c":"z","s":"C4"},{"x":2.42,"y":0.28,"c":"z","s":"C4"},{"x":2.79,"y":0.22,"c":"z","s":"C4"},{"x":3.02,"y":-0.04,"c":"z","s":"C4"},{"x":3.32,"y":-0.12,"c":"z","s":"C4"},{"x":3.62,"y":-0.18,"c":"z","s":"C4"},{"x":4.07,"y":-0.1,"c":"z","s":"C4"},{"x":4.52,"y":0.06,"c":"z","s":"C4"},{"x":4.97,"y":-0.04,"c":"z","s":"C4"},{"x":5.42,"y":-0.08,"c":"z","s":"C4"},{"x":5.87,"y":-0.1,"c":"z","s":"C4"},{"x":6.32,"y":-0.08,"c":"z","s":"C4"},{"x":6.62,"y":-0.04,"c":"z","s":"C4"},{"x":6.92,"y":-0.16,"c":"z","s":"C4"},{"x":7.22,"y":-0.06,"c":"z","s":"C4"},{"x":7.52,"y":-0.12,"c":"z","s":"C4"},{"x":7.82,"y":-0.08,"c":"z","s":"C4"},{"x":8.12,"y":-0.18,"c":"z","s":"C4"},{"x":8.34,"y":-0.04,"c":"z","s":"C4"},{"x":8.57,"y":0.15,"c":"z","s":"C4"},{"x":8.79,"y":0.22,"c":"z","s":"C4"},{"x":9.02,"y":0.17,"c":"z","s":"C4"},{"x":9.32,"y":0.02,"c":"z","s":"C4"},{"x":9.62,"y":-0.08,"c":"z","s":"C4"},{"x":10.07,"y":-0.1,"c":"z","s":"C4"},{"x":10.52,"y":-0.12,"c":"z","s":"C4"},{"x":10.86,"y":-0.14,"c":"z","s":"C4"},{"x":11.54,"y":-0.16,"c":"z","s":"C4"},{"x":11.99,"y":-0.08,"c":"z","s":"C4"},{"x":12.29,"y":-0.18,"c":"z","s":"C4"},{"x":13.04,"y":-0.06,"c":"z","s":"C4"},{"x":13.79,"y":0.04,"c":"z","s":"C4"},{"x":14.39,"y":0.13,"c":"z","s":"C4"},{"x":14.84,"y":0.04,"c":"z","s":"C4"},{"x":15.21,"y":-0.22,"c":"z","s":"C4"},{"x":15.37,"y":-0.38,"c":"z","s":"C4"},{"x":15.66,"y":-0.3,"c":"z","s":"C4"},{"x":15.92,"y":-0.19,"c":"z","s":"C4"},{"x":16.23,"y":-0.18,"c":"z","s":"C4"}
],
"legend": [
{"x":0.26,"y":8.067,"s":"C1"},{"x":3.54,"y":8.067,"s":"C1"},
{"x":0.26,"y":8.004,"s":"C2"},{"x":3.54,"y":8.004,"s":"C2"},
{"x":0.26,"y":7.94,"s":"C3"},{"x":3.54,"y":7.94,"s":"C3"},
{"x":0.26,"y":7.875,"s":"C4"},{"x":3.54,"y":7.875,"s":"C4"}
],
"legendText": [
{"x":4.08,"y":8.074,"t":"C1"},{"x":4.08,"y":8.011,"t":"C2"},{"x":4.08,"y":7.947,"t":"C3"},{"x":4.08,"y":7.882,"t":"C4"}
],
"titleText": [{"x":7.95,"y":8.685,"t":"Δr/ρₚ=\u00a0\u00a0\u00a08.8, ρₚ=\u00a0\u00a0\u00a036.8km, βₚ= 0.9"}],
"vlines": [{"x":6.29},{"x":9.59}],
"arrow": [{"x":7.11,"y":8.522,"e":"L"},{"x":8.57,"y":8.522,"e":"R"}],
"panelA": [{"x":15.96,"y":8.509,"t":"(a)"}],
"panelB": [{"x":15.96,"y":1.773,"t":"(b)"}],
"comp": [{"x":1.79,"y":1.982,"c":"x","t":"δb"},{"x":1.79,"y":1.483,"c":"y","t":"δb"},{"x":1.79,"y":0.96,"c":"z","t":"δb"}],
"ellipse": [
{"i":0,"x":8.416,"y":2.077},{"i":1,"x":8.267,"y":2.276},{"i":2,"x":7.966,"y":2.426},{"i":3,"x":7.516,"y":2.471},{"i":4,"x":6.917,"y":2.391},{"i":5,"x":6.467,"y":2.269},{"i":6,"x":6.107,"y":2.147},{"i":7,"x":5.868,"y":1.972},{"i":8,"x":5.657,"y":1.588},{"i":9,"x":5.522,"y":0.995},{"i":10,"x":5.432,"y":0.401},{"i":11,"x":5.419,"y":-0.052},{"i":12,"x":5.446,"y":-0.576},{"i":13,"x":5.491,"y":-1.03},{"i":14,"x":5.612,"y":-1.414},{"i":15,"x":5.716,"y":-1.623},{"i":16,"x":5.927,"y":-1.937},{"i":17,"x":6.166,"y":-2.216},{"i":18,"x":6.467,"y":-2.426},{"i":19,"x":6.769,"y":-2.565},{"i":20,"x":7.142,"y":-2.74},{"i":21,"x":7.592,"y":-2.88},{"i":22,"x":8.177,"y":-2.949},{"i":23,"x":8.807,"y":-2.914},{"i":24,"x":9.302,"y":-2.81},{"i":25,"x":9.694,"y":-2.67},{"i":26,"x":9.991,"y":-2.321},{"i":27,"x":10.203,"y":-2.042},{"i":28,"x":10.369,"y":-1.738},{"i":29,"x":10.518,"y":-1.344},{"i":30,"x":10.62,"y":-0.925},{"i":31,"x":10.7,"y":-0.471},{"i":32,"x":10.74,"y":0.007},{"i":33,"x":10.68,"y":0.471},{"i":34,"x":10.54,"y":0.88},{"i":35,"x":10.383,"y":1.204},{"i":36,"x":10.216,"y":1.518},{"i":37,"x":9.932,"y":1.798},{"i":38,"x":9.617,"y":2.042},{"i":39,"x":9.167,"y":2.286},{"i":40,"x":8.717,"y":2.443},{"i":41,"x":8.177,"y":2.548},{"i":42,"x":7.592,"y":2.565},{"i":43,"x":7.052,"y":2.53}
]
},
"vconcat": [
{
 "width": 368, "height": 150,
 "layer": [
  {"data": {"name": "top"},
   "mark": {"type": "line", "strokeWidth": 1.3, "color": "black"},
   "encoding": {
    "x": {"field": "x", "type": "quantitative", "scale": {"domain": [-0.33, 16.23], "nice": false, "zero": false},
          "axis": {"orient": "bottom", "values": [0,1,2,3,4,5,6,7,8,9,10,11,12,13,14,15,16], "labels": false, "title": null,
                   "tickSize": {"condition": {"test": "datum.value % 3 === 0", "value": -7}, "value": -4}}},
    "y": {"field": "y", "type": "quantitative", "scale": {"domain": [7.8, 8.6], "nice": false, "zero": false},
          "axis": {"orient": "left", "values": [7.85,7.9,7.95,8.0,8.05,8.1,8.15,8.2,8.25,8.3,8.35,8.4,8.45,8.5,8.55,8.6],
                   "labelExpr": "round(datum.value*100) % 20 === 0 ? format(datum.value, '.1f') : ''",
                   "labelPadding": 14, "labelFlush": false, "labelOverlap": false,
                   "tickSize": {"condition": {"test": "round(datum.value*100) % 20 === 0", "value": -7}, "value": -4},
                   "title": "B [nT]", "titleX": -46, "titleY": 75, "titleBaseline": "alphabetic", "titleAlign": "center", "titleAngle": 270}},
    "strokeDash": {"field": "s", "type": "nominal", "scale": {"domain": ["C1","C2","C3","C4"], "range": [[1,0],[4,2.5],[4,2,1,2],[1,2]]}, "legend": null}
   }},
  {"data": {"name": "legend"},
   "mark": {"type": "line", "strokeWidth": 1.3, "color": "black"},
   "encoding": {
    "x": {"field": "x", "type": "quantitative",
          "axis": {"orient": "top", "values": [0,1,2,3,4,5,6,7,8,9,10,11,12,13,14,15,16], "labels": false, "title": null,
                   "tickSize": {"condition": {"test": "datum.value % 3 === 0", "value": -7}, "value": -4}}},
    "y": {"field": "y", "type": "quantitative",
          "axis": {"orient": "right", "values": [7.85,7.9,7.95,8.0,8.05,8.1,8.15,8.2,8.25,8.3,8.35,8.4,8.45,8.5,8.55,8.6], "labels": false, "title": null,
                   "tickSize": {"condition": {"test": "round(datum.value*100) % 20 === 0", "value": -7}, "value": -4}}},
    "strokeDash": {"field": "s", "type": "nominal", "legend": null}
   }},
  {"data": {"name": "legendText"},
   "mark": {"type": "text", "align": "left", "baseline": "middle", "fontSize": 14, "font": "Liberation Sans", "color": "black"},
   "encoding": {"x": {"field": "x", "type": "quantitative", "axis": null}, "y": {"field": "y", "type": "quantitative", "axis": null}, "text": {"field": "t"}}},
  {"data": {"name": "titleText"},
   "mark": {"type": "text", "align": "center", "baseline": "alphabetic", "fontSize": 23.5, "font": "Liberation Sans", "color": "black", "clip": false},
   "encoding": {"x": {"field": "x", "type": "quantitative", "axis": null}, "y": {"field": "y", "type": "quantitative", "axis": null}, "text": {"field": "t"}}},
  {"data": {"name": "vlines"},
   "mark": {"type": "rule", "strokeDash": [4, 3], "color": "black", "strokeWidth": 1},
   "encoding": {"x": {"field": "x", "type": "quantitative", "axis": null}}},
  {"data": {"name": "arrow"},
   "mark": {"type": "line", "color": "#ff5020", "strokeWidth": 1.2},
   "encoding": {"x": {"field": "x", "type": "quantitative", "axis": null}, "y": {"field": "y", "type": "quantitative", "axis": null}}},
  {"data": {"name": "arrow"},
   "mark": {"type": "point", "filled": false, "color": "#ff5020", "strokeWidth": 1.2, "size": 25, "opacity": 1},
   "encoding": {"x": {"field": "x", "type": "quantitative", "axis": null}, "y": {"field": "y", "type": "quantitative", "axis": null},
    "shape": {"field": "e", "type": "nominal", "scale": {"domain": ["L","R"], "range": ["M2,-1.6L0,0L2,1.6", "M-2,-1.6L0,0L-2,1.6"]}, "legend": null}}},
  {"data": {"name": "panelA"},
   "mark": {"type": "text", "align": "right", "baseline": "middle", "fontSize": 18, "font": "Liberation Sans", "color": "black"},
   "encoding": {"x": {"field": "x", "type": "quantitative", "axis": null}, "y": {"field": "y", "type": "quantitative", "axis": null}, "text": {"field": "t"}}}
 ],
 "resolve": {"axis": {"x": "independent", "y": "independent"}}
},
{
 "width": 368, "height": 149,
 "layer": [
  {"data": {"name": "bot"},
   "mark": {"type": "line", "strokeWidth": 1.3},
   "encoding": {
    "x": {"field": "x", "type": "quantitative", "scale": {"domain": [-0.33, 16.23], "nice": false, "zero": false},
          "axis": {"orient": "bottom", "values": [0,1,2,3,4,5,6,7,8,9,10,11,12,13,14,15,16], "labels": false, "title": null,
                   "tickSize": {"condition": {"test": "datum.value % 3 === 0", "value": -7}, "value": -4}}},
    "y": {"field": "y", "type": "quantitative", "scale": {"domain": [-2.6, 2.6], "nice": false, "zero": false},
          "axis": {"orient": "left", "values": [-2.5,-2.4,-2.3,-2.2,-2.1,-2,-1.9,-1.8,-1.7,-1.6,-1.5,-1.4,-1.3,-1.2,-1.1,-1,-0.9,-0.8,-0.7,-0.6,-0.5,-0.4,-0.3,-0.2,-0.1,0,0.1,0.2,0.3,0.4,0.5,0.6,0.7,0.8,0.9,1,1.1,1.2,1.3,1.4,1.5,1.6,1.7,1.8,1.9,2,2.1,2.2,2.3,2.4,2.5],
                   "labelExpr": "abs(datum.value - round(datum.value)) < 0.001 ? '' + round(datum.value) : ''",
                   "labelPadding": 14, "labelFlush": false, "labelOverlap": false,
                   "tickSize": {"condition": {"test": "abs(datum.value - round(datum.value)) < 0.001", "value": -7}, "value": -3.5},
                   "title": "δbᵢ [nT]", "titleX": -34, "titleY": 64, "titleBaseline": "alphabetic", "titleAlign": "center", "titleAngle": 270}},
    "color": {"field": "c", "type": "nominal", "scale": {"domain": ["x","y","z"], "range": ["#000000", "#ff5020", "#2020ff"]}, "legend": null},
    "strokeDash": {"field": "s", "type": "nominal", "scale": {"domain": ["C1","C2","C3","C4"], "range": [[1,0],[4,2.5],[4,2,1,2],[1,2]]}, "legend": null}
   }},
  {"data": {"name": "comp"},
   "mark": {"type": "text", "align": "left", "baseline": "alphabetic", "fontSize": 15, "font": "Liberation Sans"},
   "encoding": {
    "x": {"field": "x", "type": "quantitative",
          "axis": {"orient": "top", "values": [0,1,2,3,4,5,6,7,8,9,10,11,12,13,14,15,16], "labels": false, "title": null,
                   "tickSize": {"condition": {"test": "datum.value % 3 === 0", "value": -7}, "value": -4}}},
    "y": {"field": "y", "type": "quantitative",
          "axis": {"orient": "right", "values": [-2.5,-2.4,-2.3,-2.2,-2.1,-2,-1.9,-1.8,-1.7,-1.6,-1.5,-1.4,-1.3,-1.2,-1.1,-1,-0.9,-0.8,-0.7,-0.6,-0.5,-0.4,-0.3,-0.2,-0.1,0,0.1,0.2,0.3,0.4,0.5,0.6,0.7,0.8,0.9,1,1.1,1.2,1.3,1.4,1.5,1.6,1.7,1.8,1.9,2,2.1,2.2,2.3,2.4,2.5], "labels": false, "title": null,
                   "tickSize": {"condition": {"test": "abs(datum.value - round(datum.value)) < 0.001", "value": -7}, "value": -3.5}}},
    "color": {"field": "c", "type": "nominal", "legend": null},
    "text": {"field": "t"}
   }},
  {"data": {"name": "comp"},
   "mark": {"type": "text", "align": "left", "baseline": "alphabetic", "fontSize": 11, "font": "Liberation Sans", "dx": 16.7, "dy": 3},
   "encoding": {"x": {"field": "x", "type": "quantitative", "axis": null}, "y": {"field": "y", "type": "quantitative", "axis": null},
    "color": {"field": "c", "type": "nominal", "legend": null}, "text": {"field": "c"}}},
  {"data": {"name": "vlines"},
   "mark": {"type": "rule", "strokeDash": [4, 3], "color": "black", "strokeWidth": 1},
   "encoding": {"x": {"field": "x", "type": "quantitative", "axis": null}}},
  {"data": {"name": "ellipse"},
   "mark": {"type": "line", "color": "black", "strokeWidth": 2, "clip": false},
   "encoding": {"x": {"field": "x", "type": "quantitative", "axis": null}, "y": {"field": "y", "type": "quantitative", "axis": null}, "order": {"field": "i", "type": "quantitative"}}},
  {"data": {"name": "panelB"},
   "mark": {"type": "text", "align": "right", "baseline": "middle", "fontSize": 18, "font": "Liberation Sans", "color": "black"},
   "encoding": {"x": {"field": "x", "type": "quantitative", "axis": null}, "y": {"field": "y", "type": "quantitative", "axis": null}, "text": {"field": "t"}}}
 ],
 "resolve": {"axis": {"x": "independent", "y": "independent"}}
}
]
}
